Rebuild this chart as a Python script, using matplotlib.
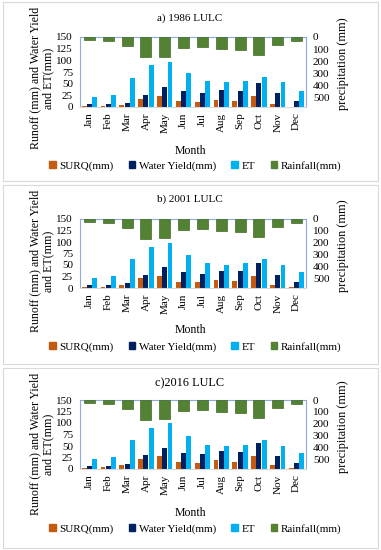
import matplotlib.pyplot as plt
import numpy as np
from matplotlib.patches import Rectangle, Patch

months = ["Jan", "Feb", "Mar", "Apr", "May", "Jun",
          "Jul", "Aug", "Sep", "Oct", "Nov", "Dec"]

rainfall = [28, 32, 75, 168, 163, 91, 86, 102, 108, 149, 64, 30]

surq_1986 = [2, 2, 5, 18, 24, 12, 10, 14, 12, 23, 6, 1]
wy_1986   = [6, 6, 9, 26, 43, 34, 30, 37, 34, 51, 29, 12]
et_1986   = [21, 26, 63, 89, 97, 72, 56, 54, 56, 65, 54, 35]

surq_2001 = [3, 3, 7, 21, 27, 14, 12, 17, 15, 27, 7, 2]
wy_2001   = [7, 6, 10, 29, 45, 35, 31, 38, 36, 54, 29, 12]
et_2001   = [21, 27, 63, 89, 97, 71, 55, 51, 55, 62, 51, 34]

surq_2016 = [3, 4, 8, 22, 28, 15, 13, 19, 16, 29, 8, 2]
wy_2016   = [7, 6, 11, 30, 46, 35, 32, 39, 37, 56, 29, 12]
et_2016   = [21, 26, 62, 90, 99, 71, 52, 49, 53, 62, 51, 34]

titles = ["a) 1986 LULC", "b) 2001 LULC", "c)2016 LULC"]
panels = [(surq_1986, wy_1986, et_1986),
          (surq_2001, wy_2001, et_2001),
          (surq_2016, wy_2016, et_2016)]

C_SURQ, C_WY, C_ET, C_RAIN = "#C55A11", "#002060", "#00B0F0", "#548235"
FRAME = "#8FAADC"

plt.rcParams["font.family"] = ["Liberation Serif", "DejaVu Serif"]

W, H = 381, 550
fig = plt.figure(figsize=(W / 100, H / 100), dpi=100)

# pixel layout per panel: (box top, box bottom, title y, plot top, plot bottom, month y, legend y)
layout = [(2, 181, 18, 37, 107, 151, 166),
          (185, 364, 199, 219, 288, 330, 347),
          (368, 548, 383, 400, 469, 513, 529)]

x = np.arange(len(months))
for (surq, wy, et), title, (bt, bb, ty, pt, pb, my, ly) in zip(panels, titles, layout):
    fig.patches.append(Rectangle((3 / W, 1 - bb / H), 375 / W, (bb - bt) / H,
                                 transform=fig.transFigure, fill=False,
                                 edgecolor="#D9D9D9", lw=0.8))
    ax = fig.add_axes([80 / W, 1 - pb / H, 226 / W, (pb - pt) / H])
    ax.bar(x - 0.28, surq, 0.26, color=C_SURQ)
    ax.bar(x, wy, 0.26, color=C_WY)
    ax.bar(x + 0.28, et, 0.26, color=C_ET)
    ax.set_xlim(-0.5, 11.5)
    ax.set_ylim(0, 150)
    ax.set_yticks(range(0, 151, 25))
    ax.set_xticks(x)
    ax.set_xticklabels(months, rotation=90)
    ax.tick_params(length=0, labelsize=8)
    ax.tick_params(axis="y", pad=5)
    ax.tick_params(axis="x", pad=4)
    for s in ["top", "left", "right"]:
        ax.spines[s].set_color(FRAME)
        ax.spines[s].set_linewidth(0.8)
    ax.spines["bottom"].set_color("#D9D9D9")
    ax.spines["bottom"].set_linewidth(0.8)

    ax2 = ax.twinx()
    ax2.bar(x, rainfall, 0.58, color=C_RAIN, edgecolor="#3F6B25", linewidth=0.5)
    ax2.set_ylim(580, 0)
    ax2.set_yticks(range(0, 501, 100))
    ax2.tick_params(length=0, labelsize=8, pad=5)
    for s in ax2.spines.values():
        s.set_visible(False)

    fig.text(190 / W, 1 - ty / H, title, ha="center", va="center",
             fontsize=8.8 if title.startswith("c") else 8)
    fig.text(42 / W, 1 - (bt + 76) / H,
             "Runoff (mm) and Water Yield\nand ET(mm)", rotation=90,
             ha="center", va="center", multialignment="center",
             fontsize=8.6, linespacing=1.15)
    fig.text(343 / W, 1 - (pt + pb - 16) / 2 / H, "precipitation (mm)",
             rotation=90, ha="center", va="center", fontsize=8.8)
    fig.text(190 / W, 1 - my / H, "Month", ha="center", va="center", fontsize=8.5)
    handles = [Patch(color=C_SURQ), Patch(color=C_WY),
               Patch(color=C_ET), Patch(color=C_RAIN)]
    fig.legend(handles, ["SURQ(mm)", "Water Yield(mm)", "ET", "Rainfall(mm)"],
               loc="center", bbox_to_anchor=(195 / W, 1 - ly / H), ncol=4,
               frameon=False, fontsize=8, handlelength=0.6, handleheight=0.6,
               handletextpad=0.3, columnspacing=1.4, borderpad=0)

fig.savefig("out.png", dpi=100)
